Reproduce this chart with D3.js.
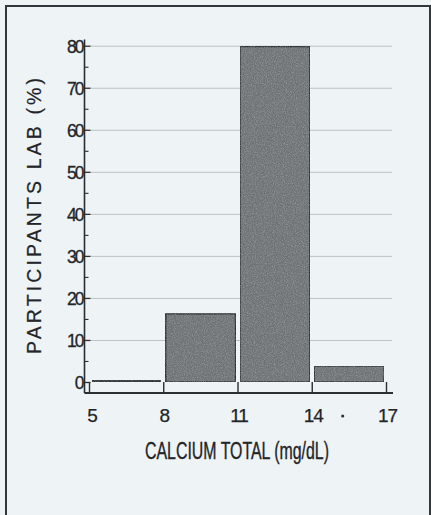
<!DOCTYPE html>
<html><head><meta charset="utf-8">
<script src="https://cdn.jsdelivr.net/npm/d3@7"></script>
<style>
html,body{margin:0;padding:0;background:#eef3f6;}
svg{display:block;}
text{font-family:"Liberation Sans",Arial,sans-serif;fill:#232528;}
</style></head>
<body>
<script>
// ---- data ----
const binStarts = [5, 8, 11, 14];
const binEnds = [8, 11, 14, 17];
const percentValues = [0.3, 16.2, 79.8, 3.8];
const xTickValues = [5, 8, 11, 14, 17];
const yMajorTicks = [0, 10, 20, 30, 40, 50, 60, 70, 80];
const yMinorTicks = [5, 15, 25, 35, 45, 55, 65, 75];
const yGridTicks = [10, 20, 30, 40, 50, 60, 70, 80];
const xTitle = "CALCIUM TOTAL (mg/dL)";
const yTitle = "PARTICIPANTS LAB (%)";

const W = 431, H = 515;
const svg = d3.select("body").append("svg").attr("width", W).attr("height", H);

const defs = svg.append("defs");
const f = defs.append("filter").attr("id","grain").attr("x",0).attr("y",0).attr("width",1).attr("height",1)
  .attr("color-interpolation-filters","sRGB");
f.append("feTurbulence").attr("type","fractalNoise").attr("baseFrequency",0.9).attr("numOctaves",2).attr("seed",4).attr("result","t");
f.append("feColorMatrix").attr("in","t").attr("type","matrix")
 .attr("values","0 0 0 0 0.78  0 0 0 0 0.80  0 0 0 0 0.82  0.8 0 0 0 -0.3").attr("result","w");
f.append("feComposite").attr("in","w").attr("in2","SourceGraphic").attr("operator","in").attr("result","wi");
const fm = f.append("feMerge");
fm.append("feMergeNode").attr("in","SourceGraphic");
fm.append("feMergeNode").attr("in","wi");

// frame
svg.append("rect").attr("x",6).attr("y",6).attr("width",424).attr("height",520)
  .attr("fill","#eef3f6").attr("stroke","#33373d").attr("stroke-width",2);

const x = d3.scaleLinear().domain([5, 17]).range([89, 386]);
const y = d3.scaleLinear().domain([0, 80]).range([382, 45.7]);

const axisColor = "#2b2e33";
const axisX = 84.5, axisY = 393;

// gridlines
const grid = svg.append("g").attr("transform", `translate(${axisX+6},0)`)
  .call(d3.axisLeft(y).tickValues(yGridTicks).tickSize(-(392-axisX-6)).tickFormat(""));
grid.select(".domain").remove();
grid.selectAll(".tick line").attr("stroke","#bcc1c5").attr("stroke-width",1);

// bars
const bars = binStarts.map((s,i)=>({s, e:binEnds[i], v:percentValues[i]}));
svg.append("g").selectAll("rect").data(bars).join("rect")
  .attr("x", d => x(d.s) + (d.s===5?3:2.5))
  .attr("width", d => x(d.e) - x(d.s) - (d.s===5?6:4.5))
  .attr("y", d => y(d.v))
  .attr("height", d => Math.max(0.5, y(0) - y(d.v)))
  .attr("fill", "#6e7275")
  .attr("stroke", "#2c2f33").attr("stroke-width", 1.4)
  .attr("filter", "url(#grain)");

// y axis
const yAx = svg.append("g").attr("transform", `translate(${axisX},0)`)
  .call(d3.axisLeft(y).tickValues(yMajorTicks).tickSize(-6).tickPadding(2));
yAx.select(".domain").remove();
yAx.selectAll(".tick line").attr("stroke",axisColor).attr("stroke-width",1.3);
yAx.selectAll(".tick text").attr("font-size",17.5).attr("letter-spacing",-2).attr("fill","#232528")
  .attr("stroke","#232528").attr("stroke-width",0.3)
  .attr("dy","0.36em");
const yMin = svg.append("g").attr("transform", `translate(${axisX},0)`)
  .call(d3.axisLeft(y).tickValues(yMinorTicks).tickSize(-4).tickFormat(""));
yMin.select(".domain").remove();
yMin.selectAll(".tick line").attr("stroke",axisColor).attr("stroke-width",1.1);

// y axis line
svg.append("line").attr("x1",axisX).attr("x2",axisX).attr("y1",y(81.5)).attr("y2",axisY)
  .attr("stroke",axisColor).attr("stroke-width",1.6);

// x axis
const xAx = svg.append("g").attr("transform", `translate(0,${axisY})`)
  .call(d3.axisBottom(x).tickValues(xTickValues).tickSize(-(axisY - y(0))).tickSizeOuter(0).tickPadding(16));
xAx.select(".domain").remove();
xAx.selectAll(".tick line").attr("stroke",axisColor).attr("stroke-width",1.4);
xAx.selectAll(".tick text").attr("font-size",19).attr("fill","#232528")
  .attr("stroke","#232528").attr("stroke-width",0.25)
  .attr("letter-spacing", d => d > 9 ? -1 : 0)
  .attr("dx", d => d===5 ? 3 : 1);
svg.append("line").attr("x1",axisX).attr("x2",393).attr("y1",axisY).attr("y2",axisY)
  .attr("stroke",axisColor).attr("stroke-width",1.8);

// stray dot between 14 and 17
svg.append("circle").attr("cx", x(15.25)).attr("cy", 416).attr("r", 1.6).attr("fill","#333");

// titles
svg.append("text").attr("x", 237).attr("y", 459).attr("text-anchor","middle")
  .attr("font-size",23).attr("textLength",184).attr("lengthAdjust","spacingAndGlyphs")
  .attr("stroke","#232528").attr("stroke-width",0.35)
  .text(xTitle);
svg.append("text").attr("transform","translate(41,216) rotate(-90)").attr("text-anchor","middle")
  .attr("font-size",19.5).attr("textLength",276).attr("lengthAdjust","spacing")
  .attr("stroke","#232528").attr("stroke-width",0.2)
  .text(yTitle);
</script>
</body></html>
